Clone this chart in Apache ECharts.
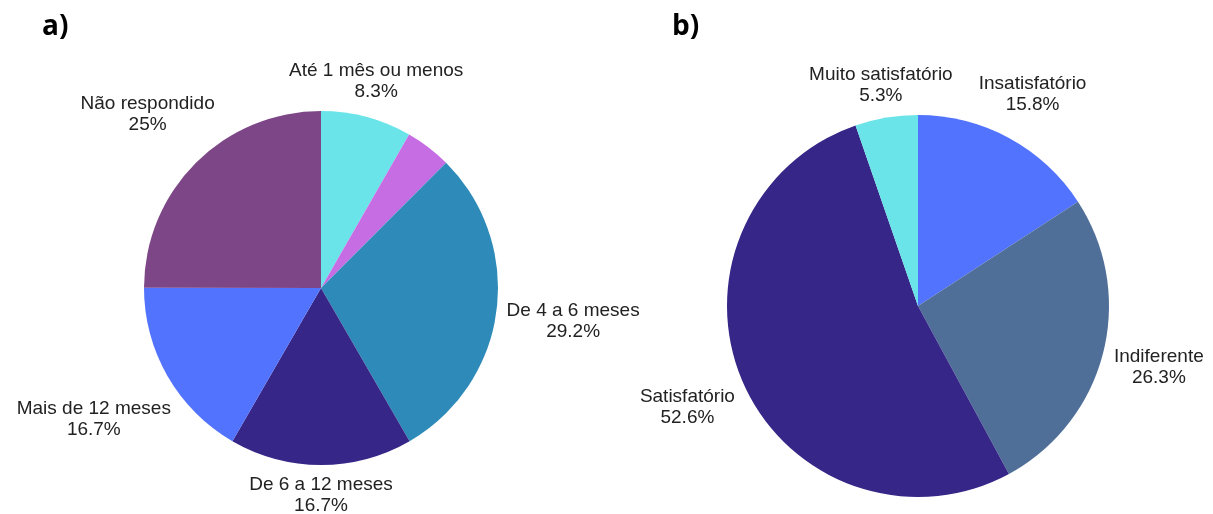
<!DOCTYPE html>
<html>
<head>
<meta charset="utf-8">
<script src="https://cdn.jsdelivr.net/npm/echarts@6/dist/echarts.min.js"></script>
<style>
  html, body { margin: 0; padding: 0; background: #ffffff; }
  #chart { width: 1213px; height: 514px; }
</style>
</head>
<body>
<div id="chart"></div>
<script>
// a) tempo de uso
var tenureNames = ['Até 1 mês ou menos', 'De 1 a 3 meses', 'De 4 a 6 meses', 'De 6 a 12 meses', 'Mais de 12 meses', 'Não respondido'];
var tenurePct = [8.3, 4.2, 29.2, 16.7, 16.7, 25];
var tenureColors = ['#6ae4e8', '#c66de4', '#2e8ab8', '#352687', '#5273fd', '#7d4686'];
var tenureShowLabel = [true, false, true, true, true, true];

// b) satisfacao
var satisfNames = ['Insatisfatório', 'Indiferente', 'Satisfatório', 'Muito satisfatório'];
var satisfPct = [15.8, 26.3, 52.6, 5.3];
var satisfColors = ['#5273fd', '#4f6e98', '#352687', '#6ae4e8'];

var pies = [
  { values: tenurePct, center: [321, 288], r: 177 },
  { values: satisfPct, center: [918, 306], r: 191 }
];
var LABEL_GAP = 9;

function buildData(names, values, colors, showLabel) {
  return values.map(function (v, i) {
    var item = { name: names[i], value: v, itemStyle: { color: colors[i] } };
    if (showLabel && !showLabel[i]) item.label = { show: false };
    return item;
  });
}

// put each label on the slice's middle ray, nearest corner just outside the rim
function placeLabel(params) {
  var p = pies[params.seriesIndex];
  var total = 0, before = 0;
  p.values.forEach(function (v, i) {
    total += v;
    if (i < params.dataIndex) before += v;
  });
  var theta = (before + p.values[params.dataIndex] / 2) / total * Math.PI * 2;
  var dx = Math.sin(theta), dy = -Math.cos(theta);
  var hw = params.labelRect.width / 2, hh = params.labelRect.height / 2;
  var target = p.r + LABEL_GAP;
  var lo = 0, hi = target + hw + hh + 50;
  for (var k = 0; k < 60; k++) {
    var mid = (lo + hi) / 2;
    var ex = Math.max(0, Math.abs(mid * dx) - hw);
    var ey = Math.max(0, Math.abs(mid * dy) - hh);
    if (Math.sqrt(ex * ex + ey * ey) < target) lo = mid; else hi = mid;
  }
  return {
    x: p.center[0] + lo * dx,
    y: p.center[1] + lo * dy,
    align: 'center',
    verticalAlign: 'middle'
  };
}

var labelStyle = {
  show: true,
  position: 'outside',
  formatter: '{b}\n{c}%',
  fontFamily: 'Liberation Sans',
  fontSize: 19,
  lineHeight: 21,
  color: '#222222',
  align: 'center'
};

var titleStyle = { fontFamily: 'Open Sans', fontWeight: 'bold', fontSize: 28, color: '#000000' };

var chart = echarts.init(document.getElementById('chart'));

var option = {
  animation: false,
  backgroundColor: '#ffffff',
  title: [
    { text: 'a)', left: 37, top: 8, textStyle: titleStyle },
    { text: 'b)', left: 667, top: 8, textStyle: titleStyle }
  ],
  series: [{
    type: 'pie',
    center: pies[0].center,
    radius: pies[0].r,
    startAngle: 90,
    clockwise: true,
    avoidLabelOverlap: false,
    label: labelStyle,
    labelLine: { show: false },
    labelLayout: placeLabel,
    emphasis: { disabled: true },
    data: buildData(tenureNames, tenurePct, tenureColors, tenureShowLabel)
  }, {
    type: 'pie',
    center: pies[1].center,
    radius: pies[1].r,
    startAngle: 90,
    clockwise: true,
    avoidLabelOverlap: false,
    label: labelStyle,
    labelLine: { show: false },
    labelLayout: placeLabel,
    emphasis: { disabled: true },
    data: buildData(satisfNames, satisfPct, satisfColors, null)
  }]
};

chart.setOption(option);
</script>
</body>
</html>
